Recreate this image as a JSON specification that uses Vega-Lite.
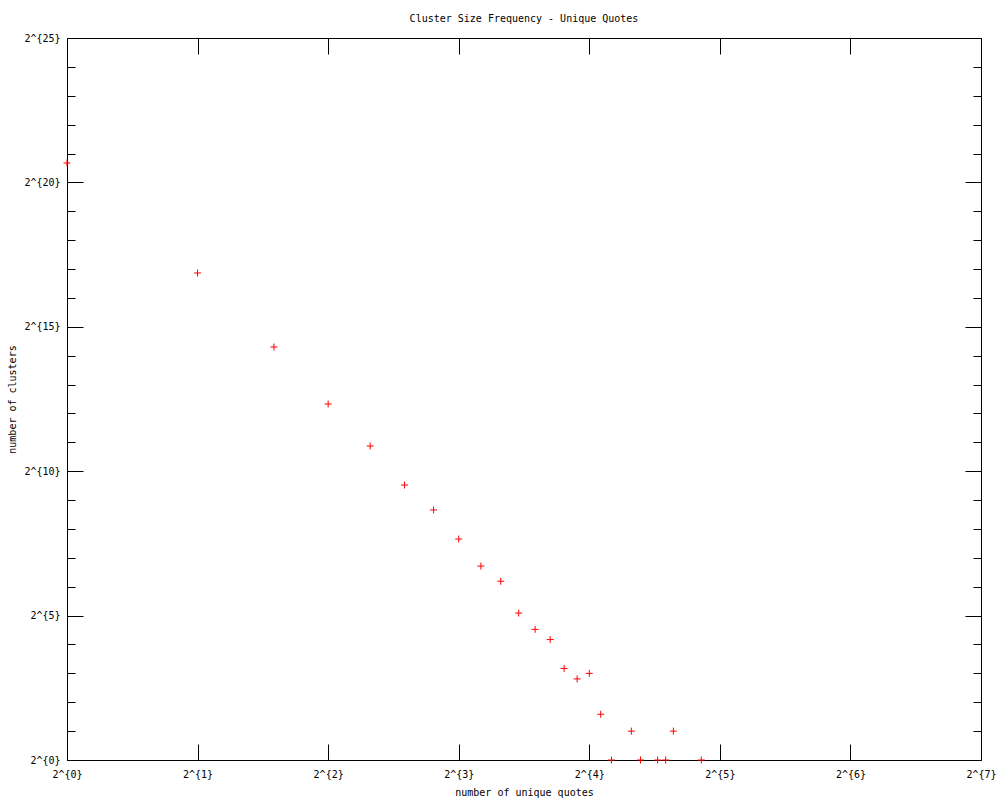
{
  "$schema": "https://vega.github.io/schema/vega-lite/v6.json",
  "width": 914,
  "height": 722,
  "autosize": "none",
  "padding": {"left": 67, "top": 38, "right": 19, "bottom": 40},
  "background": "white",
  "title": {"text": "Cluster Size Frequency - Unique Quotes", "font": "DejaVu Sans Mono", "fontSize": 10, "fontWeight": "normal", "color": "black", "offset": 9},
  "config": {
    "view": {"stroke": null},
    "axis": {
      "grid": false,
      "domainColor": "black",
      "domainWidth": 1,
      "tickColor": "black",
      "tickWidth": 1,
      "labelFont": "DejaVu Sans Mono",
      "labelFontSize": 10,
      "labelColor": "black",
      "titleFont": "DejaVu Sans Mono",
      "titleFontSize": 10,
      "titleFontWeight": "normal",
      "titleColor": "black",
      "labelFlush": false,
      "labelOverlap": false,
      "labelBound": false,
      "zindex": 1
    }
  },
  "data": {"values": [
    {"quotes": 1, "clusters": 1670000},
    {"quotes": 2, "clusters": 119200},
    {"quotes": 3, "clusters": 20170},
    {"quotes": 4, "clusters": 5137},
    {"quotes": 5, "clusters": 1875},
    {"quotes": 6, "clusters": 735},
    {"quotes": 7, "clusters": 404},
    {"quotes": 8, "clusters": 201},
    {"quotes": 9, "clusters": 105},
    {"quotes": 10, "clusters": 73},
    {"quotes": 11, "clusters": 34},
    {"quotes": 12, "clusters": 23},
    {"quotes": 13, "clusters": 18},
    {"quotes": 14, "clusters": 9},
    {"quotes": 15, "clusters": 7},
    {"quotes": 16, "clusters": 8},
    {"quotes": 17, "clusters": 3},
    {"quotes": 18, "clusters": 1},
    {"quotes": 20, "clusters": 2},
    {"quotes": 21, "clusters": 1},
    {"quotes": 23, "clusters": 1},
    {"quotes": 24, "clusters": 1},
    {"quotes": 25, "clusters": 2},
    {"quotes": 29, "clusters": 1}
  ]},
  "layer": [
    {
      "mark": {"type": "point", "shape": "M-1,0L1,0M0,-1L0,1", "filled": false, "stroke": "red", "strokeWidth": 1, "size": 49, "opacity": 1},
      "encoding": {
        "x": {"field": "quotes", "type": "quantitative",
          "scale": {"type": "log", "base": 2, "domain": [1, 128], "nice": false},
          "axis": {"orient": "bottom", "values": [1, 2, 4, 8, 16, 32, 64, 128],
            "labelExpr": "'2^{' + round(log(datum.value)/LN2) + '}'",
            "tickSize": -16, "labelPadding": 25, "title": "number of unique quotes", "titlePadding": 8}},
        "y": {"field": "clusters", "type": "quantitative",
          "scale": {"type": "log", "base": 2, "domain": [1, 33554432], "nice": false},
          "axis": {"orient": "left",
            "values": [1, 2, 4, 8, 16, 32, 64, 128, 256, 512, 1024, 2048, 4096, 8192, 16384, 32768, 65536, 131072, 262144, 524288, 1048576, 2097152, 4194304, 8388608, 16777216, 33554432],
            "labelExpr": "round(log(datum.value)/LN2) % 5 == 0 ? '2^{' + round(log(datum.value)/LN2) + '}' : ''",
            "tickSize": {"condition": {"test": "round(log(datum.value)/LN2) % 5 == 0", "value": -16}, "value": -8},
            "labelPadding": 23, "title": "number of clusters", "titlePadding": 6}}
      }
    },
    {
      "mark": {"type": "point", "opacity": 0},
      "encoding": {
        "x": {"field": "quotes", "type": "quantitative",
          "scale": {"type": "log", "base": 2, "domain": [1, 128], "nice": false},
          "axis": {"orient": "top", "values": [1, 2, 4, 8, 16, 32, 64, 128], "labels": false, "tickSize": -16, "title": null}},
        "y": {"field": "clusters", "type": "quantitative",
          "scale": {"type": "log", "base": 2, "domain": [1, 33554432], "nice": false},
          "axis": {"orient": "right",
            "values": [1, 2, 4, 8, 16, 32, 64, 128, 256, 512, 1024, 2048, 4096, 8192, 16384, 32768, 65536, 131072, 262144, 524288, 1048576, 2097152, 4194304, 8388608, 16777216, 33554432],
            "labels": false,
            "tickSize": {"condition": {"test": "round(log(datum.value)/LN2) % 5 == 0", "value": -16}, "value": -8},
            "title": null}}
      }
    }
  ],
  "resolve": {"axis": {"x": "independent", "y": "independent"}}
}
